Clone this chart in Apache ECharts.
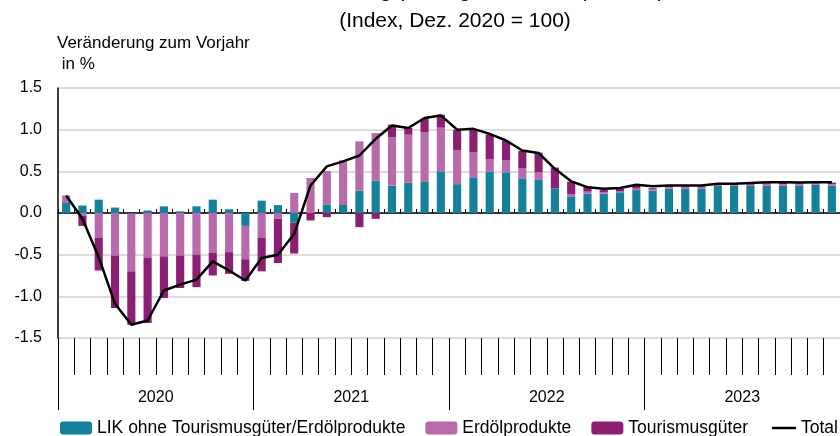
<!DOCTYPE html>
<html>
<head>
    <meta charset="utf-8">
    <style>
        html, body { margin: 0; padding: 0; background: #fff; }
        #chart-container { width: 840px; height: 436px; }
    </style>
</head>
<body>
    <div id="chart-container"></div>

    <script type="text/javascript" src="https://cdn.jsdelivr.net/npm/echarts@6/dist/echarts.min.js"></script>
    <script type="text/javascript">
        // months Jan 2020 .. Dec 2023
        var years = ['2020', '2021', '2022', '2023'];
        var months = [];
        years.forEach(function (y) {
            for (var m = 1; m <= 12; m++) months.push(y + '-' + (m < 10 ? '0' + m : m));
        });

        var seriesNames = ['LIK ohne Tourismusgüter/Erdölprodukte', 'Erdölprodukte', 'Tourismusgüter', 'Total'];

        // contributions in percentage points
        var likOhne = [
            0.12, 0.09, 0.16, 0.065, -0.01, 0.03, 0.08, 0.02, 0.08, 0.16, 0.045, -0.155,
            0.148, 0.094, -0.116, 0.0, 0.104, 0.096, 0.27, 0.39, 0.33, 0.364, 0.38, 0.50,
            0.346, 0.428, 0.496, 0.488, 0.416, 0.404, 0.295, 0.20, 0.232, 0.232, 0.248, 0.275,
            0.27, 0.29, 0.29, 0.29, 0.325, 0.325, 0.325, 0.33, 0.33, 0.33, 0.34, 0.33
        ];
        var erdoel = [
            0.09, -0.03, -0.30, -0.51, -0.69, -0.54, -0.52, -0.51, -0.50, -0.48, -0.47, -0.40,
            -0.30, -0.07, 0.24, 0.42, 0.40, 0.536, 0.59, 0.57, 0.58, 0.576, 0.592, 0.524,
            0.404, 0.30, 0.148, 0.144, 0.124, 0.088, 0.0, 0.024, 0.024, 0.02, 0.016, 0.02,
            0.02, 0.02, 0.015, 0.015, 0.015, 0.015, 0.015, 0.02, 0.015, 0.015, 0.015, 0.015
        ];
        var tourismus = [
            0.0, -0.125, -0.39, -0.63, -0.64, -0.78, -0.50, -0.39, -0.39, -0.27, -0.26, -0.26,
            -0.40, -0.53, -0.37, -0.09, -0.05, 0.0, -0.17, -0.07, 0.15, 0.08, 0.16, 0.156,
            0.248, 0.272, 0.30, 0.232, 0.204, 0.232, 0.25, 0.152, 0.064, 0.024, 0.024, 0.04,
            0.01, 0.01, 0.015, 0.015, 0.01, 0.01, 0.015, 0.01, 0.015, 0.01, 0.01, 0.02
        ];
        var total = [
            0.21, -0.07, -0.53, -1.09, -1.34, -1.29, -0.93, -0.86, -0.80, -0.58, -0.69, -0.81,
            -0.54, -0.50, -0.25, 0.33, 0.56, 0.62, 0.69, 0.89, 1.05, 1.02, 1.14, 1.17,
            1.00, 1.01, 0.95, 0.87, 0.75, 0.72, 0.53, 0.38, 0.31, 0.29, 0.30, 0.34,
            0.32, 0.33, 0.33, 0.33, 0.35, 0.35, 0.36, 0.37, 0.37, 0.365, 0.37, 0.37
        ];

        var colors = ['#14809a', '#b86baa', '#8c1f72', '#000000'];
        var font = '"Liberation Sans", Arial, sans-serif';

        var myChart = echarts.init(document.getElementById('chart-container'), null, { renderer: 'canvas' });

        var option = {
            animation: false,
            color: colors,
            graphic: [
                {
                    // first title line is cut off at the top of the picture
                    type: 'text', x: 455, y: -19,
                    style: { text: 'Jahresteuerung (Beiträge in Prozentpunkten)', font: '21px ' + font, fill: '#000', textAlign: 'center' }
                },
                {
                    type: 'text', x: 455, y: 11,
                    style: { text: '(Index, Dez. 2020 = 100)', font: '21px ' + font, fill: '#000', textAlign: 'center' }
                },
                {
                    type: 'text', x: 57, y: 33,
                    style: { text: 'Veränderung zum Vorjahr\n in %', font: '17px ' + font, fill: '#000', lineHeight: 21 }
                }
            ],
            legend: [
                {
                    data: seriesNames.slice(0, 3),
                    left: 55, top: 414,
                    itemWidth: 32, itemHeight: 13, itemGap: 20,
                    textStyle: { fontFamily: font, fontSize: 17.5, color: '#000' }
                },
                {
                    data: [{ name: 'Total', icon: 'rect' }],
                    left: 767, top: 414,
                    itemWidth: 24, itemHeight: 2.5,
                    textStyle: { fontFamily: font, fontSize: 17.5, color: '#000' }
                }
            ],
            grid: { left: 58, top: 88, width: 783, height: 250, containLabel: false },
            xAxis: [
                {
                    // zero line with small ticks
                    type: 'category', data: months,
                    axisLine: { onZero: true, lineStyle: { color: '#000', width: 1.5 } },
                    axisTick: { show: true, inside: true, length: 4, interval: 0, lineStyle: { color: '#000' } },
                    axisLabel: { show: false },
                    splitLine: { show: false }
                },
                {
                    // month separators below the plot
                    type: 'category', data: months, position: 'bottom',
                    axisLine: { show: false, onZero: false },
                    axisTick: { show: true, length: 37, interval: 0, lineStyle: { color: '#000' } },
                    axisLabel: { show: false }
                },
                {
                    // year labels
                    type: 'category', data: years, position: 'bottom',
                    axisLine: { show: false, onZero: false },
                    axisTick: { show: true, length: 72, interval: 0, lineStyle: { color: '#000' } },
                    axisLabel: { margin: 52, fontFamily: font, fontSize: 16, color: '#000', verticalAlign: 'top' }
                }
            ],
            yAxis: {
                type: 'value', min: -1.5, max: 1.5, interval: 0.5,
                axisLine: { show: true, lineStyle: { color: '#000', width: 1.5 } },
                axisTick: { show: false },
                axisLabel: {
                    margin: 16, fontFamily: font, fontSize: 16, color: '#000',
                    formatter: function (v) { return v.toFixed(1); }
                },
                splitLine: { lineStyle: { color: '#dcdcdc', width: 2 } }
            },
            series: [
                { name: seriesNames[0], type: 'bar', stack: 'a', barWidth: '50%', data: likOhne },
                { name: seriesNames[1], type: 'bar', stack: 'a', data: erdoel },
                { name: seriesNames[2], type: 'bar', stack: 'a', data: tourismus },
                {
                    name: seriesNames[3], type: 'line', data: total, symbol: 'none', z: 5,
                    lineStyle: { color: '#000', width: 2.5 }, itemStyle: { color: '#000' }
                }
            ]
        };
        myChart.setOption(option);
    </script>
</body>
</html>
